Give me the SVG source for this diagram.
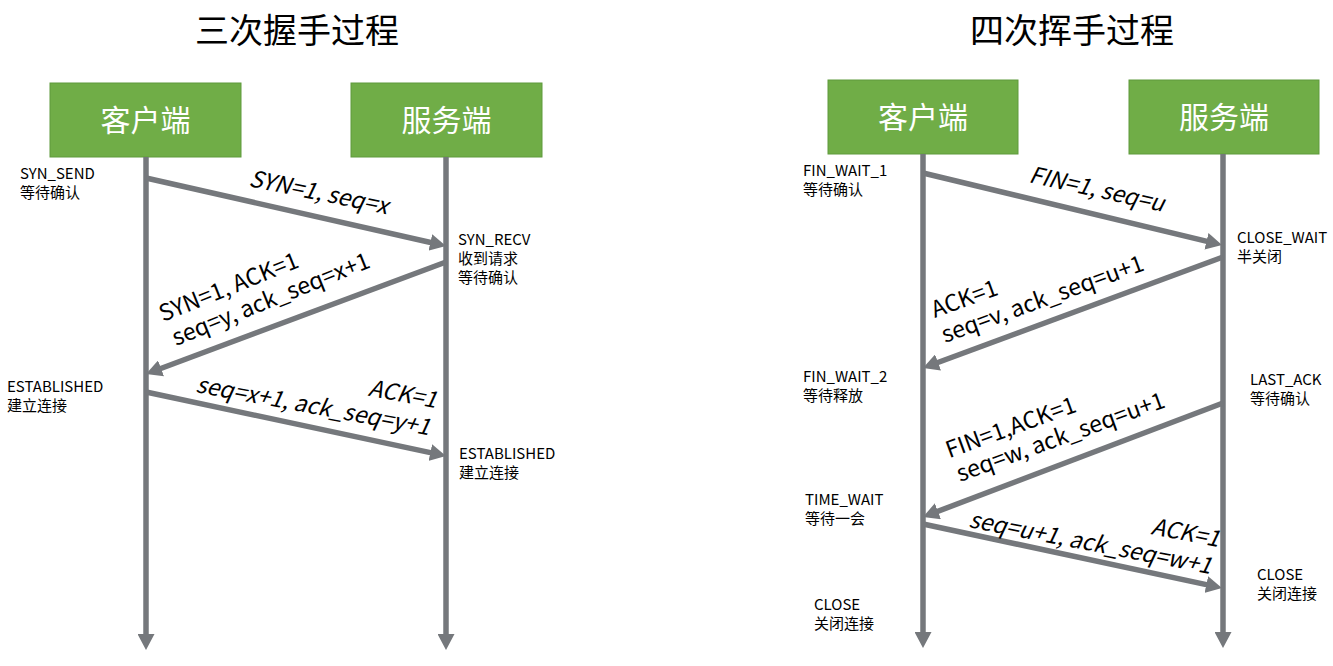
<svg xmlns="http://www.w3.org/2000/svg" width="1333" height="666" viewBox="0 0 1333 666">
<style>
text{font-family:"Noto Sans CJK SC","Noto Sans",sans-serif;fill:#000}
.title{font-size:34px;text-anchor:middle}
.box{fill:#70AD47;stroke:#5F9A3C;stroke-width:1}
.boxt{font-size:30px;fill:#fff;text-anchor:middle}
.lbl{font-size:15px}
.msg{font-size:23px}
.it{font-style:italic}
.end{text-anchor:end}
.ln{stroke:#75787C;stroke-width:5.5;fill:none;marker-end:url(#ah)}
</style>
<defs>
<marker id="ah" markerUnits="userSpaceOnUse" markerWidth="16" markerHeight="17" refX="6" refY="8.5" orient="auto">
<path d="M0,0 L16,8.5 L0,17 Z" fill="#75787C"/>
</marker>
</defs>
<rect width="1333" height="666" fill="#fff"/>
<text class="title" x="297" y="43">三次握手过程</text>
<text class="title" x="1072" y="43">四次挥手过程</text>

<g id="left-client"><rect class="box" x="50" y="83" width="191" height="74"/><text class="boxt" x="145.5" y="131">客户端</text></g>
<g id="left-server"><rect class="box" x="351" y="83" width="191" height="74"/><text class="boxt" x="446.5" y="131">服务端</text></g>
<g id="right-client"><rect class="box" x="828" y="80" width="190" height="74"/><text class="boxt" x="923" y="128">客户端</text></g>
<g id="right-server"><rect class="box" x="1129" y="80" width="190" height="74"/><text class="boxt" x="1224" y="128">服务端</text></g>

<g id="connectors">
<line class="ln" x1="146" y1="157" x2="146" y2="640"/>
<line class="ln" x1="446" y1="157" x2="446" y2="640"/>
<line class="ln" x1="146" y1="178" x2="436.2" y2="243.8"/>
<line class="ln" x1="446" y1="262" x2="155.4" y2="370.5"/>
<line class="ln" x1="146" y1="392" x2="436.2" y2="453.9"/>
<line class="ln" x1="923" y1="154" x2="923" y2="638"/>
<line class="ln" x1="1223" y1="154" x2="1223" y2="638"/>
<line class="ln" x1="923" y1="173" x2="1212.3" y2="242.7"/>
<line class="ln" x1="1223" y1="257" x2="932.4" y2="364.5"/>
<line class="ln" x1="1223" y1="403" x2="932.3" y2="513.4"/>
<line class="ln" x1="923" y1="524" x2="1212.2" y2="585.9"/>
</g>

<g id="left-labels">
<text class="lbl" x="20" y="179">SYN_SEND</text>
<text class="lbl" x="20" y="198">等待确认</text>
<text class="lbl" x="458" y="245">SYN_RECV</text>
<text class="lbl" x="458" y="264">收到请求</text>
<text class="lbl" x="458" y="283">等待确认</text>
<text class="lbl" x="7" y="392">ESTABLISHED</text>
<text class="lbl" x="7" y="411">建立连接</text>
<text class="lbl" x="459" y="459">ESTABLISHED</text>
<text class="lbl" x="459" y="478">建立连接</text>
</g>
<g id="left-msgs">
<text class="msg it" transform="translate(248,186) rotate(11.5)">SYN=1, seq=x</text>
<g transform="translate(176,346) rotate(-22)">
<text class="msg" x="-3" y="-27">SYN=1, ACK=1</text>
<text class="msg" x="0" y="0">seq=y, ack_seq=x+1</text>
</g>
<g transform="translate(195,392) rotate(10.5)">
<text class="msg it end" x="239" y="-28">ACK=1</text>
<text class="msg it" x="0" y="0">seq=x+1, ack_seq=y+1</text>
</g>
</g>

<g id="right-labels">
<text class="lbl" x="803" y="176">FIN_WAIT_1</text>
<text class="lbl" x="803" y="195">等待确认</text>
<text class="lbl" x="1237" y="243">CLOSE_WAIT</text>
<text class="lbl" x="1237" y="262">半关闭</text>
<text class="lbl" x="803" y="382">FIN_WAIT_2</text>
<text class="lbl" x="803" y="401">等待释放</text>
<text class="lbl" x="1250" y="385">LAST_ACK</text>
<text class="lbl" x="1250" y="404">等待确认</text>
<text class="lbl" x="805" y="505">TIME_WAIT</text>
<text class="lbl" x="805" y="524">等待一会</text>
<text class="lbl" x="1257" y="580">CLOSE</text>
<text class="lbl" x="1257" y="599">关闭连接</text>
<text class="lbl" x="814" y="610">CLOSE</text>
<text class="lbl" x="814" y="629">关闭连接</text>
</g>
<g id="right-msgs">
<text class="msg it" transform="translate(1028,182) rotate(12.5)">FIN=1, seq=u</text>
<g transform="translate(945,343) rotate(-20)">
<text class="msg" x="-1" y="-27">ACK=1</text>
<text class="msg" x="0" y="0">seq=v, ack_seq=u+1</text>
</g>
<g transform="translate(960,482) rotate(-20)">
<text class="msg" x="-2" y="-26">FIN=1,ACK=1</text>
<text class="msg" x="0" y="0">seq=w, ack_seq=u+1</text>
</g>
<g transform="translate(968,527) rotate(11)">
<text class="msg it end" x="249" y="-28">ACK=1</text>
<text class="msg it" x="0" y="0">seq=u+1, ack_seq=w+1</text>
</g>
</g>
</svg>
